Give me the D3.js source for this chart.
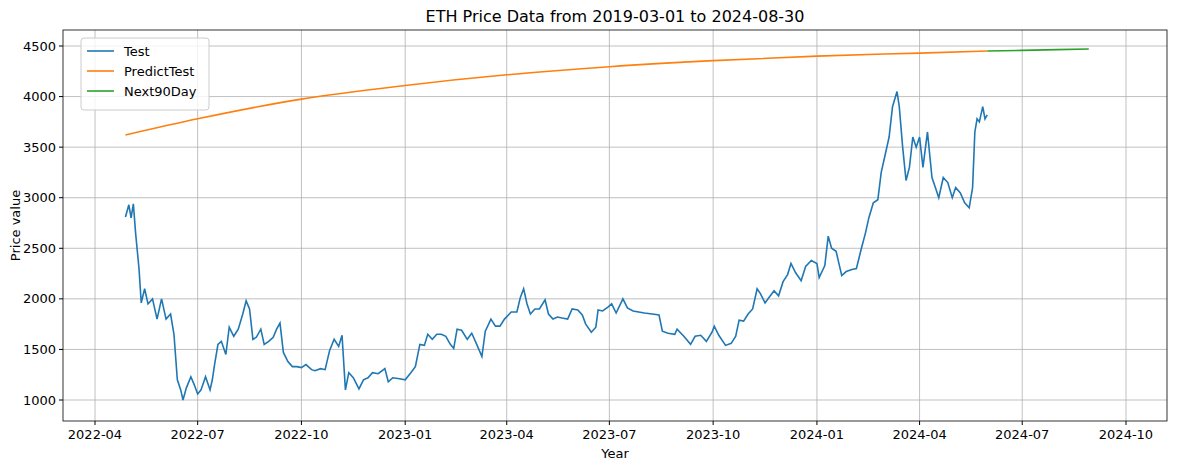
<!DOCTYPE html>
<html><head><meta charset="utf-8">
<script src="https://cdn.jsdelivr.net/npm/d3@7"></script>
<style>body{margin:0;background:#fff;font-family:"DejaVu Sans",sans-serif}</style>
</head><body><svg id="c" width="1185" height="470"></svg>
<script>
const testDates=["2022-04-28","2022-05-01","2022-05-03","2022-05-05","2022-05-07","2022-05-10","2022-05-12","2022-05-15","2022-05-18","2022-05-22","2022-05-26","2022-05-30","2022-06-03","2022-06-07","2022-06-10","2022-06-13","2022-06-16","2022-06-18","2022-06-21","2022-06-25","2022-06-28","2022-07-01","2022-07-04","2022-07-08","2022-07-12","2022-07-14","2022-07-16","2022-07-19","2022-07-22","2022-07-26","2022-07-29","2022-08-02","2022-08-06","2022-08-10","2022-08-13","2022-08-16","2022-08-19","2022-08-22","2022-08-26","2022-08-29","2022-09-02","2022-09-06","2022-09-09","2022-09-12","2022-09-15","2022-09-19","2022-09-23","2022-09-27","2022-10-01","2022-10-05","2022-10-10","2022-10-13","2022-10-18","2022-10-22","2022-10-26","2022-10-30","2022-11-03","2022-11-06","2022-11-09","2022-11-12","2022-11-16","2022-11-21","2022-11-25","2022-11-29","2022-12-03","2022-12-08","2022-12-14","2022-12-17","2022-12-21","2022-12-27","2023-01-01","2023-01-06","2023-01-10","2023-01-14","2023-01-18","2023-01-21","2023-01-25","2023-01-29","2023-02-02","2023-02-06","2023-02-10","2023-02-13","2023-02-16","2023-02-20","2023-02-25","2023-03-01","2023-03-05","2023-03-10","2023-03-13","2023-03-18","2023-03-22","2023-03-26","2023-03-30","2023-04-05","2023-04-10","2023-04-13","2023-04-16","2023-04-19","2023-04-22","2023-04-26","2023-04-30","2023-05-05","2023-05-08","2023-05-12","2023-05-16","2023-05-20","2023-05-25","2023-05-29","2023-06-03","2023-06-07","2023-06-10","2023-06-15","2023-06-19","2023-06-21","2023-06-25","2023-06-30","2023-07-03","2023-07-07","2023-07-13","2023-07-17","2023-07-22","2023-07-27","2023-08-01","2023-08-08","2023-08-14","2023-08-17","2023-08-22","2023-08-28","2023-08-30","2023-09-05","2023-09-11","2023-09-15","2023-09-20","2023-09-25","2023-09-30","2023-10-02","2023-10-06","2023-10-12","2023-10-17","2023-10-21","2023-10-24","2023-10-28","2023-11-01","2023-11-05","2023-11-09","2023-11-12","2023-11-16","2023-11-20","2023-11-24","2023-11-28","2023-12-02","2023-12-06","2023-12-09","2023-12-13","2023-12-18","2023-12-22","2023-12-27","2024-01-01","2024-01-03","2024-01-08","2024-01-11","2024-01-14","2024-01-18","2024-01-23","2024-01-27","2024-02-01","2024-02-05","2024-02-09","2024-02-13","2024-02-16","2024-02-20","2024-02-24","2024-02-27","2024-03-01","2024-03-05","2024-03-08","2024-03-12","2024-03-14","2024-03-17","2024-03-20","2024-03-23","2024-03-26","2024-03-29","2024-04-01","2024-04-04","2024-04-08","2024-04-12","2024-04-15","2024-04-18","2024-04-22","2024-04-26","2024-04-30","2024-05-03","2024-05-07","2024-05-11","2024-05-15","2024-05-18","2024-05-20","2024-05-22","2024-05-24","2024-05-27","2024-05-29","2024-05-31"];
const testValues=[2810,2930,2800,2940,2650,2300,1960,2100,1950,2000,1800,2000,1800,1850,1650,1200,1100,1000,1120,1230,1150,1060,1100,1230,1100,1200,1350,1550,1580,1450,1720,1630,1700,1850,1980,1900,1600,1620,1700,1550,1580,1620,1700,1760,1470,1380,1330,1330,1320,1350,1300,1290,1310,1300,1490,1600,1530,1640,1100,1270,1220,1110,1200,1220,1270,1260,1310,1180,1220,1210,1200,1270,1330,1550,1540,1650,1600,1650,1650,1630,1550,1510,1700,1690,1600,1660,1560,1430,1680,1800,1730,1730,1800,1870,1870,2010,2100,1950,1850,1900,1900,1990,1850,1800,1820,1810,1800,1900,1890,1840,1750,1670,1720,1890,1880,1920,1950,1860,2000,1910,1880,1870,1860,1850,1840,1680,1660,1650,1700,1630,1550,1630,1640,1580,1670,1730,1640,1540,1560,1630,1790,1780,1850,1900,2100,2050,1960,2020,2080,2030,2170,2240,2350,2260,2180,2320,2380,2350,2210,2330,2620,2500,2470,2230,2270,2290,2300,2480,2650,2800,2950,2980,3250,3400,3600,3900,4050,3900,3500,3170,3300,3600,3500,3600,3300,3650,3200,3100,3000,3200,3150,3000,3100,3050,2950,2900,3100,3650,3780,3750,3900,3780,3820];
const predDates=["2022-04-28","2022-07-01","2022-10-01","2023-01-01","2023-04-01","2023-07-01","2023-10-01","2024-01-01","2024-04-01","2024-05-31"];
const predValues=[3620,3780,3975,4110,4215,4295,4355,4400,4430,4450];
const nextDates=["2024-05-31","2024-07-01","2024-08-01","2024-08-29"];
const nextValues=[4450,4457,4464,4470];
const xTicks=["2022-04","2022-07","2022-10","2023-01","2023-04","2023-07","2023-10","2024-01","2024-04","2024-07","2024-10"];
const yTicks=[1000,1500,2000,2500,3000,3500,4000,4500];

const P=d3.timeParse("%Y-%m-%d"), PM=d3.timeParse("%Y-%m");
const svg=d3.select("#c");
const L=63,R=1167,T=30,B=421;
const x=d3.scaleTime().domain([P("2022-04-01"),P("2024-10-01")]).range([95,1126]);
const y=d3.scaleLinear().domain([1000,4500]).range([400,46]);
const g=svg.append("g");
xTicks.forEach(t=>{const px=x(PM(t));
 g.append("line").attr("x1",px).attr("x2",px).attr("y1",T).attr("y2",B).attr("stroke","#b0b0b0").attr("stroke-width",0.8);
 g.append("line").attr("x1",px).attr("x2",px).attr("y1",B).attr("y2",B+4).attr("stroke","#000");
 g.append("text").attr("x",px).attr("y",B+18).attr("text-anchor","middle").attr("font-size",13).text(t);});
yTicks.forEach(t=>{const py=y(t);
 g.append("line").attr("x1",L).attr("x2",R).attr("y1",py).attr("y2",py).attr("stroke","#b0b0b0").attr("stroke-width",0.8);
 g.append("line").attr("x1",L-4).attr("x2",L).attr("y1",py).attr("y2",py).attr("stroke","#000");
 g.append("text").attr("x",L-7).attr("y",py+4.5).attr("text-anchor","end").attr("font-size",13).text(t);});
const line=d3.line().x(d=>x(d[0])).y(d=>y(d[1]));
const mk=(ds,vs)=>ds.map((d,i)=>[P(d),vs[i]]);
g.append("path").attr("d",line(mk(testDates,testValues))).attr("fill","none").attr("stroke","#1f77b4").attr("stroke-width",1.6);
const sm=d3.line().x(d=>x(d[0])).y(d=>y(d[1])).curve(d3.curveMonotoneX);
g.append("path").attr("d",sm(mk(predDates,predValues))).attr("fill","none").attr("stroke","#ff7f0e").attr("stroke-width",1.6);
g.append("path").attr("d",sm(mk(nextDates,nextValues))).attr("fill","none").attr("stroke","#2ca02c").attr("stroke-width",1.6);
svg.append("rect").attr("x",L).attr("y",T).attr("width",R-L).attr("height",B-T).attr("fill","none").attr("stroke","#000").attr("stroke-width",0.8);
svg.append("text").attr("x",(L+R)/2).attr("y",22).attr("text-anchor","middle").attr("font-size",16).text("ETH Price Data from 2019-03-01 to 2024-08-30");
svg.append("text").attr("x",(L+R)/2).attr("y",458).attr("text-anchor","middle").attr("font-size",13).text("Year");
svg.append("text").attr("transform",`translate(20,${(T+B)/2}) rotate(-90)`).attr("text-anchor","middle").attr("font-size",13).text("Price value");
const lg=svg.append("g");
lg.append("rect").attr("x",81).attr("y",38).attr("width",128).attr("height",72).attr("rx",3).attr("fill","#fff").attr("fill-opacity",0.8).attr("stroke","#ccc");
[["Test","#1f77b4"],["PredictTest","#ff7f0e"],["Next90Day","#2ca02c"]].forEach((s,i)=>{const yy=51+i*20;
 lg.append("line").attr("x1",87).attr("x2",114).attr("y1",yy).attr("y2",yy).attr("stroke",s[1]).attr("stroke-width",1.6);
 lg.append("text").attr("x",124).attr("y",yy+4.5).attr("font-size",13).text(s[0]);});
</script></body></html>
